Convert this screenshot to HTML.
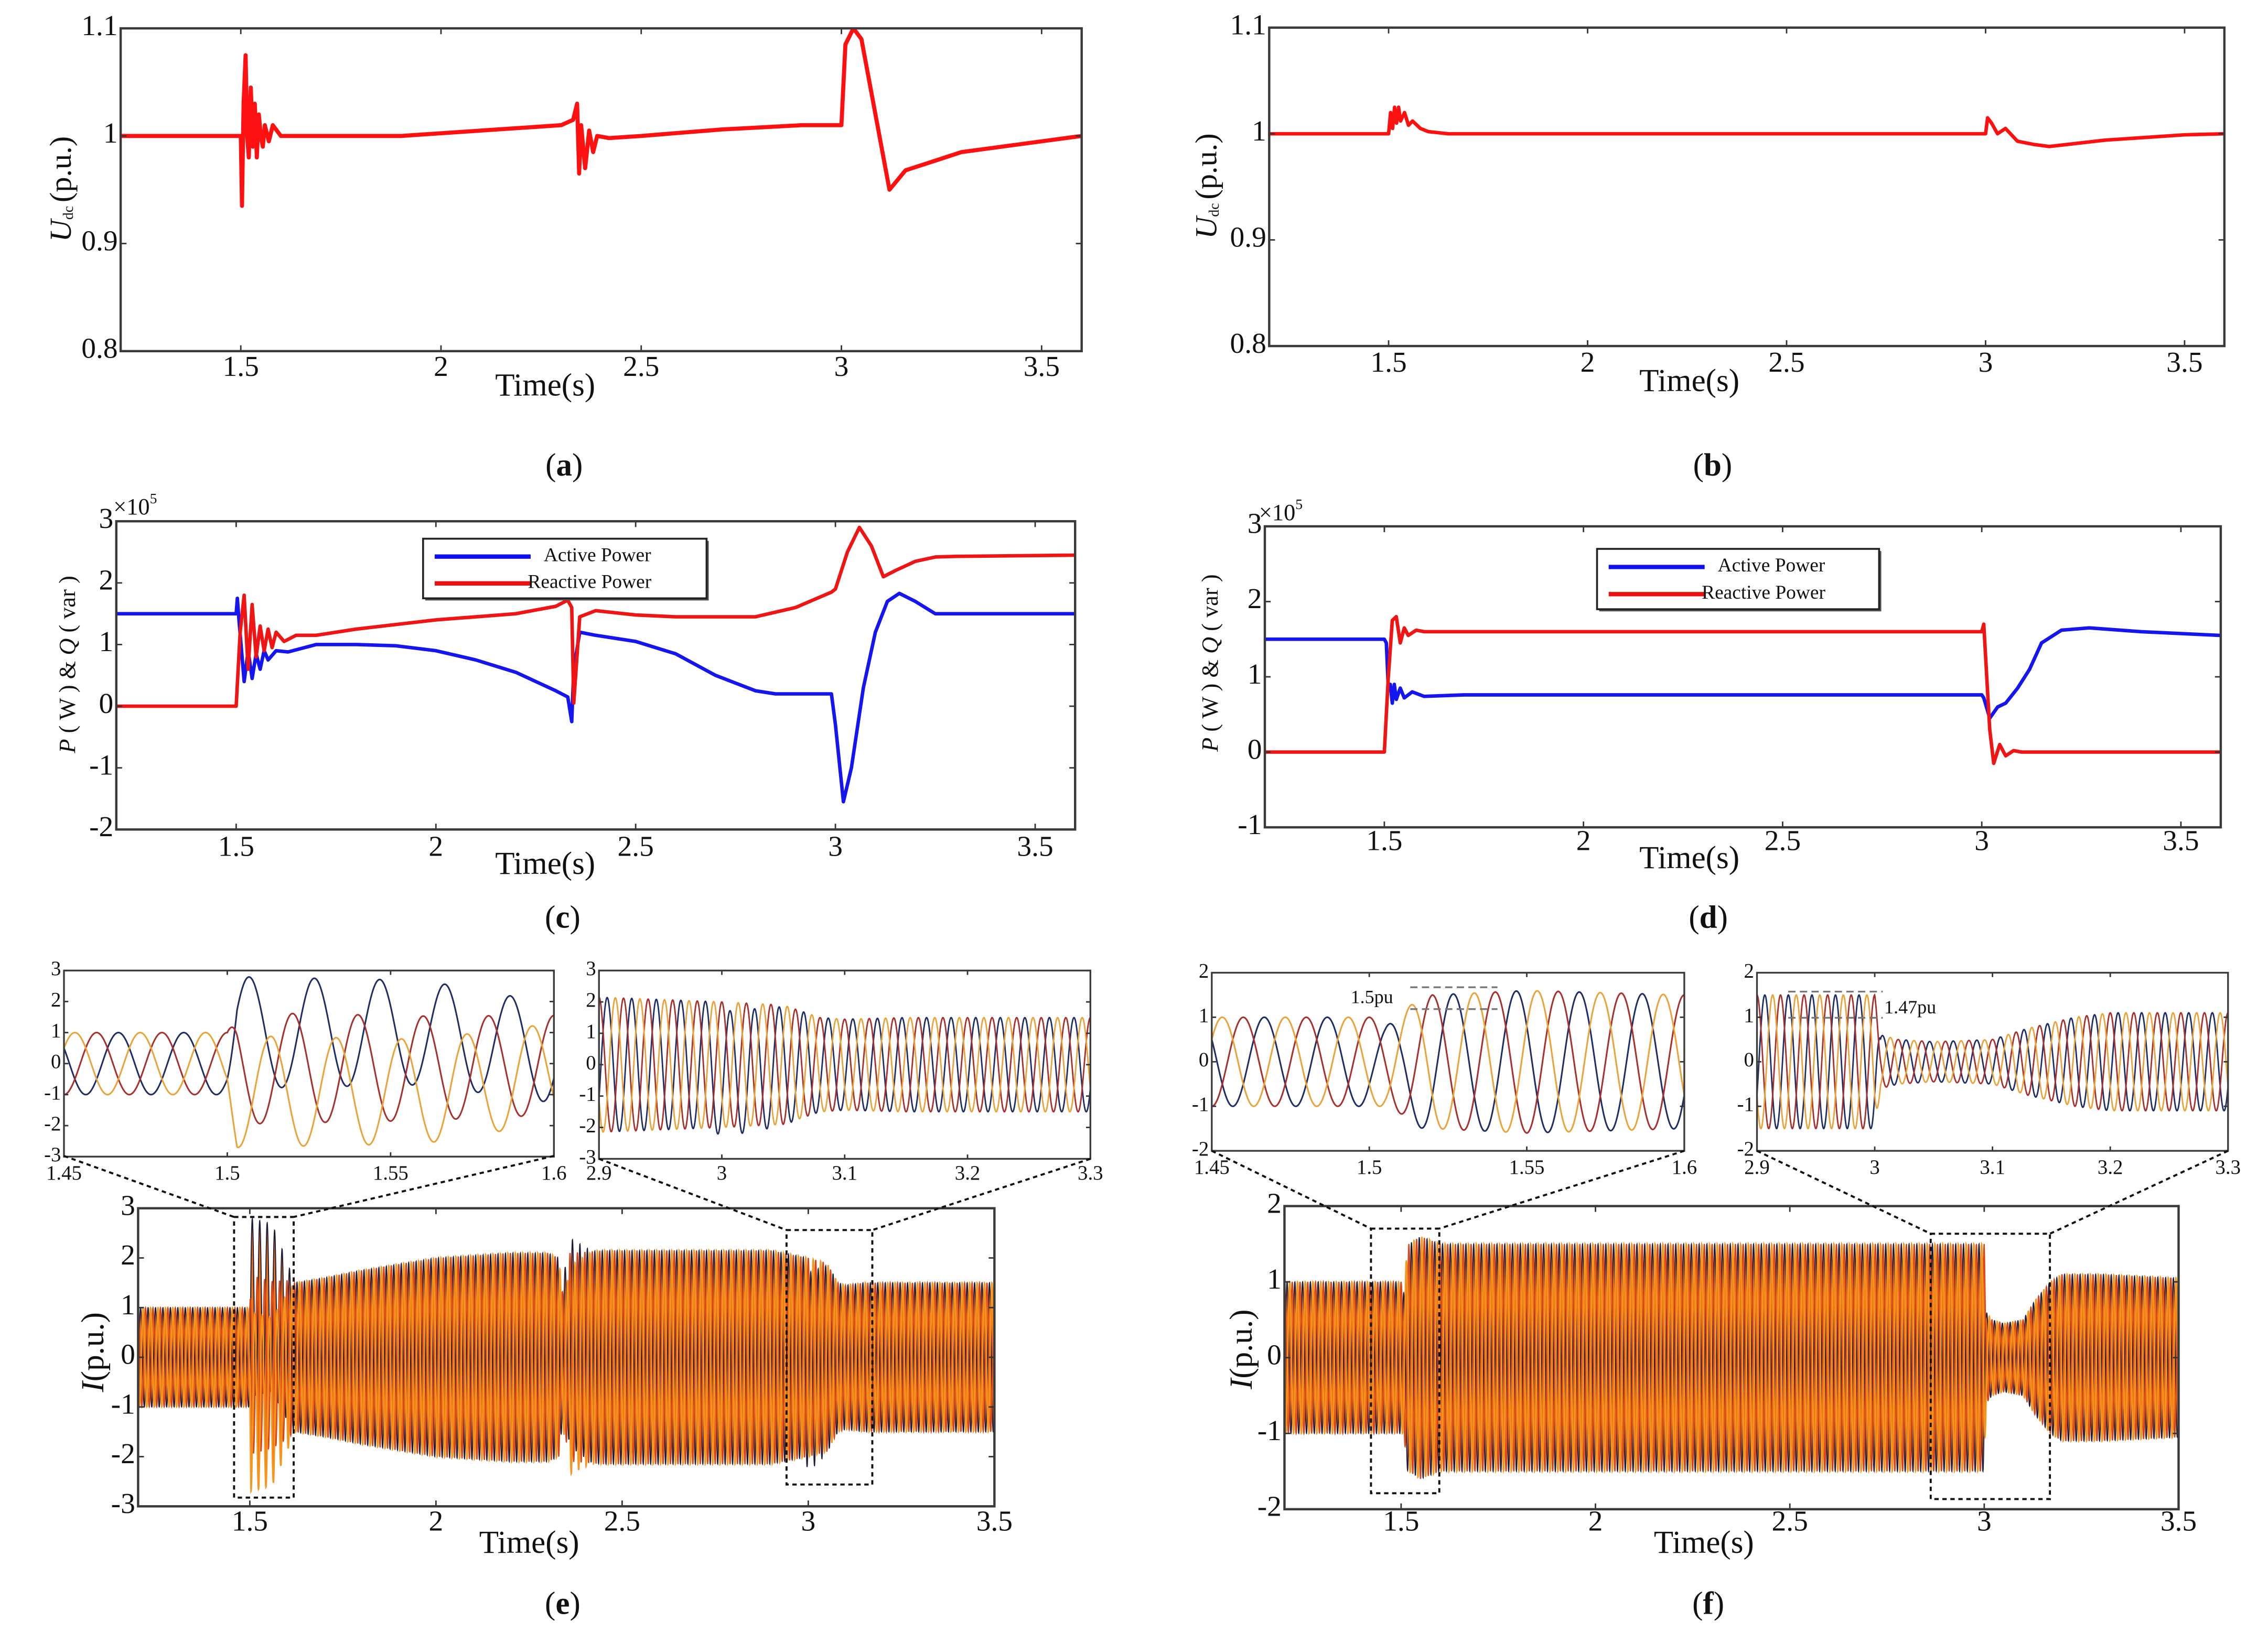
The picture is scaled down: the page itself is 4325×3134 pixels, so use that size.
<!DOCTYPE html>
<html><head><meta charset="utf-8"><style>
html,body{margin:0;padding:0;background:#fff;}
svg{display:block;}
text{font-family:"Liberation Serif",serif;fill:#111;}
</style></head><body>
<svg id="fig" xmlns="http://www.w3.org/2000/svg" width="4325" height="3134" viewBox="0 0 1560 1130" preserveAspectRatio="none">
<rect x="0" y="0" width="1560" height="1130" fill="#fff"/>
<g id="layer"></g>
</svg>
<script>
// ---- panel (a) DC voltage, method 1
const aTimes=[1.2,1.5,1.503,1.507,1.512,1.516,1.52,1.525,1.53,1.535,1.54,1.545,1.55,1.555,1.56,1.57,1.58,1.6,1.65,1.9,2.1,2.3,2.33,2.34,2.345,2.35,2.36,2.37,2.38,2.39,2.42,2.5,2.7,2.9,3.0,3.01,3.03,3.05,3.07,3.12,3.16,3.3,3.5,3.6];
const aUdc=[1.0,1.0,0.935,1.03,1.075,1.0,0.98,1.045,0.99,1.03,0.98,1.02,1.0,0.99,1.01,0.995,1.01,1.0,1.0,1.0,1.005,1.01,1.015,1.03,0.965,1.01,0.97,1.005,0.985,1.0,0.998,1.0,1.006,1.01,1.01,1.085,1.1,1.09,1.05,0.95,0.968,0.985,0.995,1.0];
// ---- panel (b) DC voltage, method 2
const bTimes=[1.2,1.5,1.505,1.51,1.515,1.52,1.525,1.53,1.54,1.55,1.56,1.58,1.6,1.65,3.0,3.005,3.015,3.03,3.05,3.08,3.12,3.16,3.3,3.5,3.6];
const bUdc=[1,1,1.02,1.005,1.025,1.01,1.025,1.012,1.02,1.008,1.012,1.005,1.002,1.0,1.0,1.015,1.01,1.0,1.005,0.993,0.99,0.988,0.994,0.999,1.0];
// ---- panel (c) powers (x1e5)
const cPTimes=[1.2,1.5,1.503,1.507,1.52,1.53,1.54,1.55,1.56,1.57,1.58,1.6,1.63,1.7,1.8,1.9,2.0,2.1,2.2,2.3,2.33,2.34,2.345,2.36,2.4,2.5,2.6,2.7,2.8,2.85,2.95,2.99,3.0,3.02,3.04,3.07,3.1,3.13,3.16,3.2,3.25,3.3,3.6];
const cActive=[1.5,1.5,1.75,1.4,0.4,0.9,0.45,0.85,0.6,0.9,0.75,0.9,0.88,1.0,1.0,0.98,0.9,0.75,0.55,0.25,0.15,-0.25,0.6,1.2,1.15,1.05,0.85,0.5,0.25,0.2,0.2,0.2,-0.3,-1.55,-1.0,0.3,1.2,1.7,1.83,1.7,1.5,1.5,1.5];
const cQTimes=[1.2,1.5,1.51,1.52,1.53,1.54,1.55,1.56,1.57,1.58,1.59,1.6,1.62,1.65,1.7,1.8,2.0,2.2,2.3,2.33,2.34,2.345,2.36,2.4,2.5,2.6,2.8,2.9,2.99,3.0,3.03,3.06,3.09,3.12,3.15,3.2,3.25,3.3,3.6];
const cReactive=[0,0,1.2,1.8,0.6,1.65,0.8,1.3,0.9,1.25,0.95,1.2,1.05,1.15,1.15,1.25,1.4,1.5,1.62,1.72,1.6,0.05,1.45,1.55,1.48,1.45,1.45,1.6,1.85,1.9,2.5,2.9,2.6,2.1,2.2,2.35,2.42,2.43,2.45];
// ---- panel (d) powers (x1e5)
const dPTimes=[1.2,1.5,1.505,1.51,1.515,1.52,1.525,1.53,1.54,1.55,1.57,1.6,1.7,3.0,3.005,3.02,3.04,3.06,3.09,3.12,3.15,3.2,3.27,3.4,3.6];
const dActive=[1.5,1.5,1.45,0.85,0.9,0.65,0.9,0.7,0.85,0.72,0.8,0.74,0.76,0.76,0.72,0.45,0.6,0.65,0.85,1.1,1.45,1.62,1.65,1.6,1.55];
const dQTimes=[1.2,1.5,1.51,1.52,1.53,1.54,1.55,1.56,1.58,1.6,3.0,3.005,3.02,3.03,3.045,3.06,3.08,3.1,3.6];
const dReactive=[0,0,1.0,1.75,1.8,1.45,1.65,1.55,1.62,1.6,1.6,1.7,0.3,-0.15,0.1,-0.05,0.02,0,0];
// ---- panel (e) three-phase current envelope and phase offsets
const eEnvTimes=[1.2,1.5,1.503,1.6,1.62,1.7,1.8,2.0,2.2,2.3,2.33,2.34,2.36,2.45,2.6,2.9,3.0,3.05,3.08,3.1,3.15,3.5];
const eAmp=[1.0,1.0,1.8,1.6,1.5,1.6,1.75,2.0,2.1,2.1,2.0,1.3,2.1,2.15,2.15,2.15,2.0,1.9,1.5,1.45,1.5,1.5];
const eOffTimes=[1.2,1.5,1.503,1.56,1.62,2.34,2.35,2.42,2.99,3.0,3.06,3.5];
const eOffNavy=[0,0,1.0,1.0,0,0,0.35,0,0,-0.3,0,0];
const eOffRed=[0,0,-0.15,-0.15,0,0,0,0,0,0,0,0];
const eOffOrange=[0,0,-0.9,-0.9,0,0,-0.3,0,0,0,0,0];
// ---- panel (f) three-phase current envelope
const fEnvTimes=[1.2,1.5,1.505,1.52,1.55,1.6,3.0,3.005,3.02,3.05,3.1,3.13,3.17,3.2,3.3,3.5];
const fAmp=[1.0,1.0,1.0,1.5,1.6,1.5,1.5,0.6,0.5,0.45,0.5,0.75,1.0,1.1,1.1,1.05];
const fOffTimes=[1.2,1.5,1.51,1.52,3.5];
const fOffNavy=[0,0,-0.3,0,0];
// tick labels
const xTicksAB=[1.5,2,2.5,3,3.5];
const yTicksA=[0.8,0.9,1,1.1];
const yTicksC=[-2,-1,0,1,2,3];
const yTicksD=[-1,0,1,2,3];
const yTicksE=[-3,-2,-1,0,1,2,3];
const yTicksF=[-2,-1,0,1,2];
const xTicksIn1=[1.45,1.5,1.55,1.6];
const xTicksIn2=[2.9,3,3.1,3.2,3.3];

const NS="http://www.w3.org/2000/svg";
const layer=document.getElementById('layer');
function el(tag,attrs,parent){const e=document.createElementNS(NS,tag);for(const k in attrs)e.setAttribute(k,attrs[k]);(parent||layer).appendChild(e);return e;}
function txt(s,x,y,fs,anchor,parent,extra){const t=el('text',Object.assign({x:x,y:y,'font-size':fs,'text-anchor':anchor||'middle','dominant-baseline':'middle'},extra||{}),parent);t.textContent=s;return t;}
function interp(ts,vs,t){if(t<=ts[0])return vs[0];for(let i=1;i<ts.length;i++){if(t<=ts[i]){const f=(t-ts[i-1])/(ts[i]-ts[i-1]);return vs[i-1]+f*(vs[i]-vs[i-1]);}}return vs[vs.length-1];}
function fmt(v){return String(v);}

function makePanel(name,c){
  const g=el('g',{});
  
  
  const sx=t=>c.x0+(t-c.xmin)/(c.xmax-c.xmin)*(c.x1-c.x0);
  const sy=v=>c.y1-(v-c.ymin)/(c.ymax-c.ymin)*(c.y1-c.y0);
  const clipId='clip-'+name;
  const cp=el('clipPath',{id:clipId},g);el('rect',{x:c.x0,y:c.y0,width:c.x1-c.x0,height:c.y1-c.y0},cp);
  const plot=el('g',{'clip-path':'url(#'+clipId+')'},g);
  
  
  const axes=el('g',{},g);
  
  
  const tl=c.tick||4;
  c.xticks.forEach(v=>{const x=sx(v);el('line',{x1:x,y1:c.y1,x2:x,y2:c.y1-tl,stroke:'#333','stroke-width':1},axes);el('line',{x1:x,y1:c.y0,x2:x,y2:c.y0+tl,stroke:'#333','stroke-width':1},axes);
    const t=txt(fmt(v),x,c.xlabY,c.fs,'middle',axes);});
  c.yticks.forEach(v=>{const y=sy(v);el('line',{x1:c.x0,y1:y,x2:c.x0+tl,y2:y,stroke:'#333','stroke-width':1},axes);el('line',{x1:c.x1,y1:y,x2:c.x1-tl,y2:y,stroke:'#333','stroke-width':1},axes);
    const t=txt(fmt(v),c.x0-2,y,c.fs,'end',axes);});
  const box=el('rect',{x:c.x0,y:c.y0,width:c.x1-c.x0,height:c.y1-c.y0,fill:'none',stroke:'#3a3a3a','stroke-width':c.bw||1.6},axes);
  
  
  return {g,plot,sx,sy};
}
function line(P,ts,vs,color,w,name){
  let d='';ts.forEach((t,i)=>{d+=(i?'L':'M')+P.sx(t).toFixed(2)+','+P.sy(vs[i]).toFixed(2);});
  const p=el('path',{d:d,fill:'none',stroke:color,'stroke-width':w,'stroke-linejoin':'round'},P.plot);
  
  
  return p;
}
function threePhase(P,t0,t1,step,envT,envA,offT,offs,colors,widths,prefix,fillColor){
  const phases=[Math.PI/2-2*Math.PI/3,Math.PI/2,Math.PI/2+2*Math.PI/3];
  const names=['phase-a','phase-b','phase-c'];
  const paths=['','',''];const up=[],lo=[];
  let first=true;
  for(let t=t0;t<=t1+1e-9;t+=step){
    const a=interp(envT,envA,t);let mx=-1e9,mn=1e9;
    phases.forEach((ph,k)=>{
      const o=offs[k]?interp(offT,offs[k],t):0;
      const v=o+a*Math.sin(2*Math.PI*50*t+ph);
      mx=Math.max(mx,v);mn=Math.min(mn,v);
      paths[k]+=(first?'M':'L')+P.sx(t).toFixed(2)+','+P.sy(v).toFixed(2);
    });
    up.push(P.sx(t).toFixed(2)+','+P.sy(mx).toFixed(2));lo.push(P.sx(t).toFixed(2)+','+P.sy(mn).toFixed(2));
    first=false;
  }
  if(fillColor){
    const f=el('path',{d:'M'+up.join('L')+'L'+lo.reverse().join('L')+'Z',fill:fillColor,stroke:'none'},P.plot);
    
    
  }
  paths.forEach((d,k)=>{
    const p=el('path',{d:d,fill:'none',stroke:colors[k],'stroke-width':widths[k]},P.plot);
    
    
  });
}
function rotLabel(parent,x,y,fs,parts,name){
  const t=el('text',{x:0,y:0,'font-size':fs,'text-anchor':'middle','dominant-baseline':'middle',transform:'translate('+x+','+y+') rotate(-90)'},parent);
  parts.forEach(p=>{const s=el('tspan',p.a||{},t);s.textContent=p.s;});
  
  
}
function legend(parent,x,y,w,h,name){
  const g=el('g',{},parent);
  
  
  el('rect',{x:x+1.5,y:y+1.5,width:w,height:h,fill:'#555'},g);
  el('rect',{x:x,y:y,width:w,height:h,fill:'#fff',stroke:'#222','stroke-width':1.3},g);
  const r1=y+h*0.3, r2=y+h*0.75;
  el('line',{x1:x+8,y1:r1,x2:x+74,y2:r1,stroke:'#1010ee','stroke-width':3},g);
  el('line',{x1:x+8,y1:r2,x2:x+74,y2:r2,stroke:'#ee1010','stroke-width':3},g);
  const t1=txt('Active Power',x+83,r1,13.5,'start',g);
  const t2=txt('Reactive Power',x+72,r2,13.5,'start',g);
}
function caption(s,x,y,name){const t=txt('',x,y,22,'middle');
  const a=el('tspan',{},t);a.textContent='(';const b=el('tspan',{'font-weight':'bold'},t);b.textContent=s;const c2=el('tspan',{},t);c2.textContent=')';}
function timeLabel(x,y,name){const t=txt('Time(s)',x,y,22,'middle');}
function dotted(x1,y1,x2,y2,name){const l=el('line',{x1,y1,x2,y2,stroke:'#111','stroke-width':1.4,'stroke-dasharray':'3,2.5'});}
function dottedRect(x0,y0,x1,y1,name){const r=el('rect',{x:x0,y:y0,width:x1-x0,height:y1-y0,fill:'none',stroke:'#111','stroke-width':1.4,'stroke-dasharray':'3,2.5'});}

// (a)
let A=makePanel('panel-a',{x0:83,x1:744,y0:19.5,y1:241.5,xmin:1.2,xmax:3.6,ymin:0.8,ymax:1.1,xticks:xTicksAB,yticks:yTicksA,xlabY:254,fs:20});
line(A,aTimes,aUdc,'#ff1010',2.8,'udc-line-a');
rotLabel(A.g,44,130,21,[{s:'U',a:{'font-style':'italic'}},{s:'dc ',a:{'font-size':10,dy:4}},{s:'(p.u.)',a:{dy:-4}}],'y-axis-title-a');
timeLabel(375,267,'x-axis-title-a');caption('a',388,322,'caption-a');
// (b)
let B=makePanel('panel-b',{x0:873,x1:1530,y0:19,y1:238,xmin:1.2,xmax:3.6,ymin:0.8,ymax:1.1,xticks:xTicksAB,yticks:yTicksA,xlabY:251,fs:20});
line(B,bTimes,bUdc,'#ff1010',2.4,'udc-line-b');
rotLabel(B.g,832,128,21,[{s:'U',a:{'font-style':'italic'}},{s:'dc ',a:{'font-size':10,dy:4}},{s:'(p.u.)',a:{dy:-4}}],'y-axis-title-b');
timeLabel(1162,264,'x-axis-title-b');caption('b',1178,322,'caption-b');
// (c)
let C=makePanel('panel-c',{x0:80,x1:739.5,y0:358.5,y1:570.5,xmin:1.2,xmax:3.6,ymin:-2,ymax:3,xticks:xTicksAB,yticks:yTicksC,xlabY:584,fs:20});
line(C,cPTimes,cActive,'#1515f0',2.4,'active-power-line-c');
line(C,cQTimes,cReactive,'#f01515',2.4,'reactive-power-line-c');
legend(C.g,291,370.5,195,41,'legend-c');
rotLabel(C.g,48,457,16,[{s:'P',a:{'font-style':'italic'}},{s:' ( W ) & '},{s:'Q',a:{'font-style':'italic'}},{s:' ( var )'}],'y-axis-title-c');
{const t=txt('×10',78,350,16,'start');const s=el('tspan',{'font-size':10,dy:-6},t);s.textContent='5';}
timeLabel(375,596,'x-axis-title-c');caption('c',387,633,'caption-c');
// (d)
let D=makePanel('panel-d',{x0:870,x1:1527.5,y0:362,y1:569,xmin:1.2,xmax:3.6,ymin:-1,ymax:3,xticks:xTicksAB,yticks:yTicksD,xlabY:580,fs:20});
line(D,dPTimes,dActive,'#1515f0',2.4,'active-power-line-d');
line(D,dQTimes,dReactive,'#f01515',2.4,'reactive-power-line-d');
legend(D.g,1098.5,377.5,194,41.5,'legend-d');
rotLabel(D.g,834,456,16,[{s:'P',a:{'font-style':'italic'}},{s:' ( W ) & '},{s:'Q',a:{'font-style':'italic'}},{s:' ( var )'}],'y-axis-title-d');
{const t=txt('×10',866,354,16,'start');const s=el('tspan',{'font-size':10,dy:-6},t);s.textContent='5';}
timeLabel(1162,592,'x-axis-title-d');caption('d',1175,633,'caption-d');

const mainCols=['#1e1a3a','#d8441a','#f7961e'];
const mainW=[0.7,0.8,1.0];
const inCols=['#1f2d66','#a8302c','#e9a33a'];
const inW=[1.1,1.1,1.1];
const bandColor='#ee7418';
// (e) main
let E=makePanel('panel-e',{x0:95,x1:684,y0:831,y1:1036,xmin:1.2,xmax:3.5,ymin:-3,ymax:3,xticks:xTicksAB,yticks:yTicksE,xlabY:1048,fs:20});
threePhase(E,1.2,3.5,0.0004,eEnvTimes,eAmp,eOffTimes,[eOffNavy,eOffRed,eOffOrange],mainCols,mainW,'current-e',bandColor);
rotLabel(E.g,66,930,22,[{s:'I',a:{'font-style':'italic'}},{s:'(p.u.)'}],'y-axis-title-e');
timeLabel(364,1063,'x-axis-title-e');caption('e',387,1105,'caption-e');
// (e) insets
let E1=makePanel('panel-e-inset-1',{x0:44,x1:381,y0:667.5,y1:795.5,xmin:1.45,xmax:1.6,ymin:-3,ymax:3,xticks:xTicksIn1,yticks:yTicksE,xlabY:808,fs:14,tick:3,bw:1.2});
threePhase(E1,1.45,1.6,0.0002,eEnvTimes,eAmp,eOffTimes,[eOffNavy,eOffRed,eOffOrange],inCols,inW,'zoom-current-e1');
let E2=makePanel('panel-e-inset-2',{x0:412,x1:750,y0:667.5,y1:797,xmin:2.9,xmax:3.3,ymin:-3,ymax:3,xticks:xTicksIn2,yticks:yTicksE,xlabY:808,fs:14,tick:3,bw:1.2});
threePhase(E2,2.9,3.3,0.0003,eEnvTimes,eAmp,eOffTimes,[eOffNavy,eOffRed,eOffOrange],inCols,[1,1,1],'zoom-current-e2');
dottedRect(161,837,202,1030,'zoom-box-e1');dottedRect(541,846,600,1021,'zoom-box-e2');
dotted(44,795,161,837,'connector');dotted(381,795,202,837,'connector');
dotted(412,797,541,846,'connector');dotted(750,797,600,846,'connector');
// (f) main
let F=makePanel('panel-f',{x0:883.5,x1:1498.5,y0:829.5,y1:1038,xmin:1.2,xmax:3.5,ymin:-2,ymax:2,xticks:xTicksAB,yticks:yTicksF,xlabY:1048,fs:20});
threePhase(F,1.2,3.5,0.0004,fEnvTimes,fAmp,fOffTimes,[fOffNavy,null,null],mainCols,mainW,'current-f',bandColor);
rotLabel(F.g,856,928,22,[{s:'I',a:{'font-style':'italic'}},{s:'(p.u.)'}],'y-axis-title-f');
timeLabel(1172,1063,'x-axis-title-f');caption('f',1175,1105,'caption-f');
let F1=makePanel('panel-f-inset-1',{x0:833.5,x1:1158.5,y0:669,y1:791.5,xmin:1.45,xmax:1.6,ymin:-2,ymax:2,xticks:xTicksIn1,yticks:yTicksF,xlabY:804,fs:14,tick:3,bw:1.2});
threePhase(F1,1.45,1.6,0.0002,fEnvTimes,fAmp,fOffTimes,[fOffNavy,null,null],inCols,inW,'zoom-current-f1');
let F2=makePanel('panel-f-inset-2',{x0:1208.5,x1:1532.5,y0:669,y1:791.5,xmin:2.9,xmax:3.3,ymin:-2,ymax:2,xticks:xTicksIn2,yticks:yTicksF,xlabY:804,fs:14,tick:3,bw:1.2});
threePhase(F2,2.9,3.3,0.0003,fEnvTimes,fAmp,fOffTimes,[fOffNavy,null,null],inCols,[1,1,1],'zoom-current-f2');
// annotations
[[970,679,1030,679],[970,694,1030,694],[1230,682,1295,682],[1230,700,1295,700]].forEach(a=>{const l=el('line',{x1:a[0],y1:a[1],x2:a[2],y2:a[3],stroke:'#777','stroke-width':1.2,'stroke-dasharray':'5,3'});});
{const t=txt('1.5pu',929,687,13,'start');}
{const t=txt('1.47pu',1296,694,13,'start');}
dottedRect(943,845,990,1027,'zoom-box-f1');dottedRect(1328,848.5,1410,1031,'zoom-box-f2');
dotted(833.5,791.5,943,845,'connector');dotted(1158.5,791.5,990,845,'connector');
dotted(1208.5,791.5,1328,848.5,'connector');dotted(1532.5,791.5,1410,848.5,'connector');
</script>
</body></html>
